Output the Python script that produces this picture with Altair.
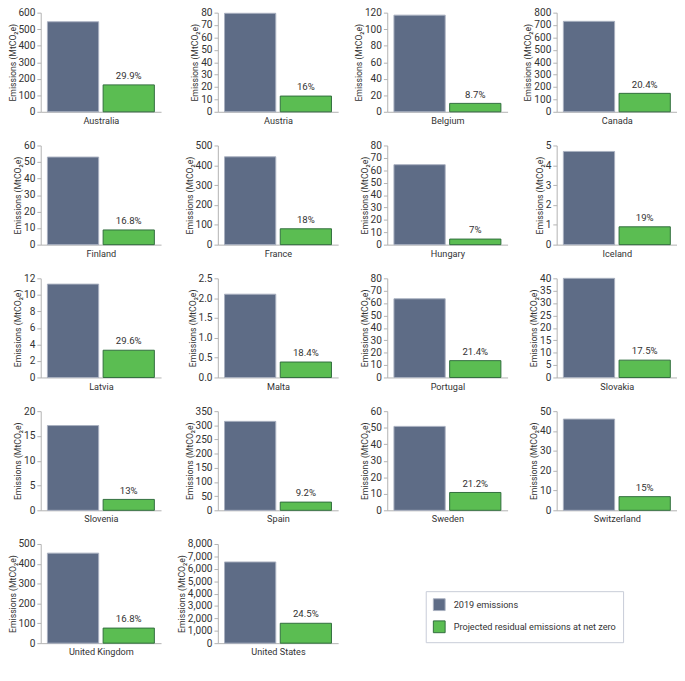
import altair as alt
import pandas as pd
import numpy as np

countries = ["Australia", "Austria", "Belgium", "Canada",
             "Finland", "France", "Hungary", "Iceland",
             "Latvia", "Malta", "Portugal", "Slovakia",
             "Slovenia", "Spain", "Sweden", "Switzerland",
             "United Kingdom", "United States"]
emissions_2019 = [545, 79.5, 117, 730,
                  53, 443, 64.5, 4.7,
                  11.3, 2.1, 63.5, 40,
                  17.1, 314, 50.8, 46,
                  454, 6550]
residual_net_zero = [163, 12.7, 10.2, 149,
                     8.9, 80, 4.5, 0.9,
                     3.3, 0.39, 13.6, 7,
                     2.2, 29, 10.8, 6.9,
                     76, 1605]
pct_labels = ["29.9%", "16%", "8.7%", "20.4%",
              "16.8%", "18%", "7%", "19%",
              "29.6%", "18.4%", "21.4%", "17.5%",
              "13%", "9.2%", "21.2%", "15%",
              "16.8%", "24.5%"]
y_max = [600, 80, 120, 800,
         60, 500, 80, 5,
         12, 2.5, 80, 40,
         20, 350, 60, 50,
         500, 8000]
y_step = [100, 10, 20, 100,
          10, 100, 10, 1,
          2, 0.5, 10, 5,
          5, 50, 10, 10,
          100, 1000]
y_format = ["d", "d", "d", "d",
            "d", "d", "d", "d",
            "d", ".1f", "d", "d",
            "d", "d", "d", "d",
            "d", ",d"]

series = ["2019 emissions", "Projected residual emissions at net zero"]
fill_colors = ["#5e6c86", "#5bbd52"]
stroke_colors = ["#a9b0bf", "#2f6b3b"]

FONT = "Roboto"
TXT = "#333333"

legend_def = alt.Legend(
    title=None, orient="none", legendX=400, legendY=601,
    direction="vertical", symbolType="square", symbolSize=150,
    symbolStrokeWidth=1, labelFontSize=9.5, labelColor=TXT, labelFont=FONT,
    strokeColor="#c6cbd6", padding=7, rowPadding=5, labelOffset=8,
    fillColor="white", labelLimit=300,
)

panels = []
for i, c in enumerate(countries):
    df = pd.DataFrame({
        "series": series,
        "value": [emissions_2019[i], residual_net_zero[i]],
        "label": ["", pct_labels[i]],
    })
    ticks = [float(round(v, 3)) for v in np.arange(0, y_max[i] + y_step[i] / 2, y_step[i])]
    x_enc = alt.X("series:N", sort=series, title=c,
                  scale=alt.Scale(paddingInner=0.08, paddingOuter=0.12),
                  axis=alt.Axis(labels=False, ticks=False, domainColor="#b0b0b0",
                                titlePadding=4, titleFontWeight="normal",
                                titleFontSize=9.5, titleColor=TXT, titleFont=FONT))
    y_enc = alt.Y("value:Q", scale=alt.Scale(domain=[0, y_max[i]], nice=False, zero=True),
                  axis=alt.Axis(values=ticks, tickCount=20, format=y_format[i], grid=False,
                                labelOverlap=False, labelFlush=False,
                                title="Emissions (MtCO₂e)", titleFontWeight="normal",
                                titleFontSize=9, titleColor=TXT, titleFont=FONT,
                                labelFontSize=10.5, labelColor=TXT, labelFont=FONT,
                                domainColor="#b0b0b0", tickColor="#b0b0b0",
                                tickSize=4, labelPadding=2, titlePadding=1))
    base = alt.Chart(df)
    bars = base.mark_bar(strokeWidth=1).encode(
        x=x_enc, y=y_enc,
        color=alt.Color("series:N", scale=alt.Scale(domain=series, range=fill_colors),
                        legend=legend_def),
        stroke=alt.Stroke("series:N", scale=alt.Scale(domain=series, range=stroke_colors),
                          legend=legend_def),
    )
    text = base.transform_filter("datum.label != ''").mark_text(
        dy=-4, baseline="bottom", fontSize=10, color=TXT, font=FONT
    ).encode(x=x_enc, y=y_enc, text="label:N")
    panels.append(alt.layer(bars, text).properties(width=125, height=103))

chart = alt.concat(*panels, columns=4, spacing={"row": 16, "column": 17}).resolve_scale(
    y="independent", x="independent", color="shared", stroke="shared"
).properties(padding={"left": 0, "top": -13, "right": 0, "bottom": 0}).configure_view(stroke=None)

chart.save("out.html", embed_options={"renderer": "svg", "actions": False})
